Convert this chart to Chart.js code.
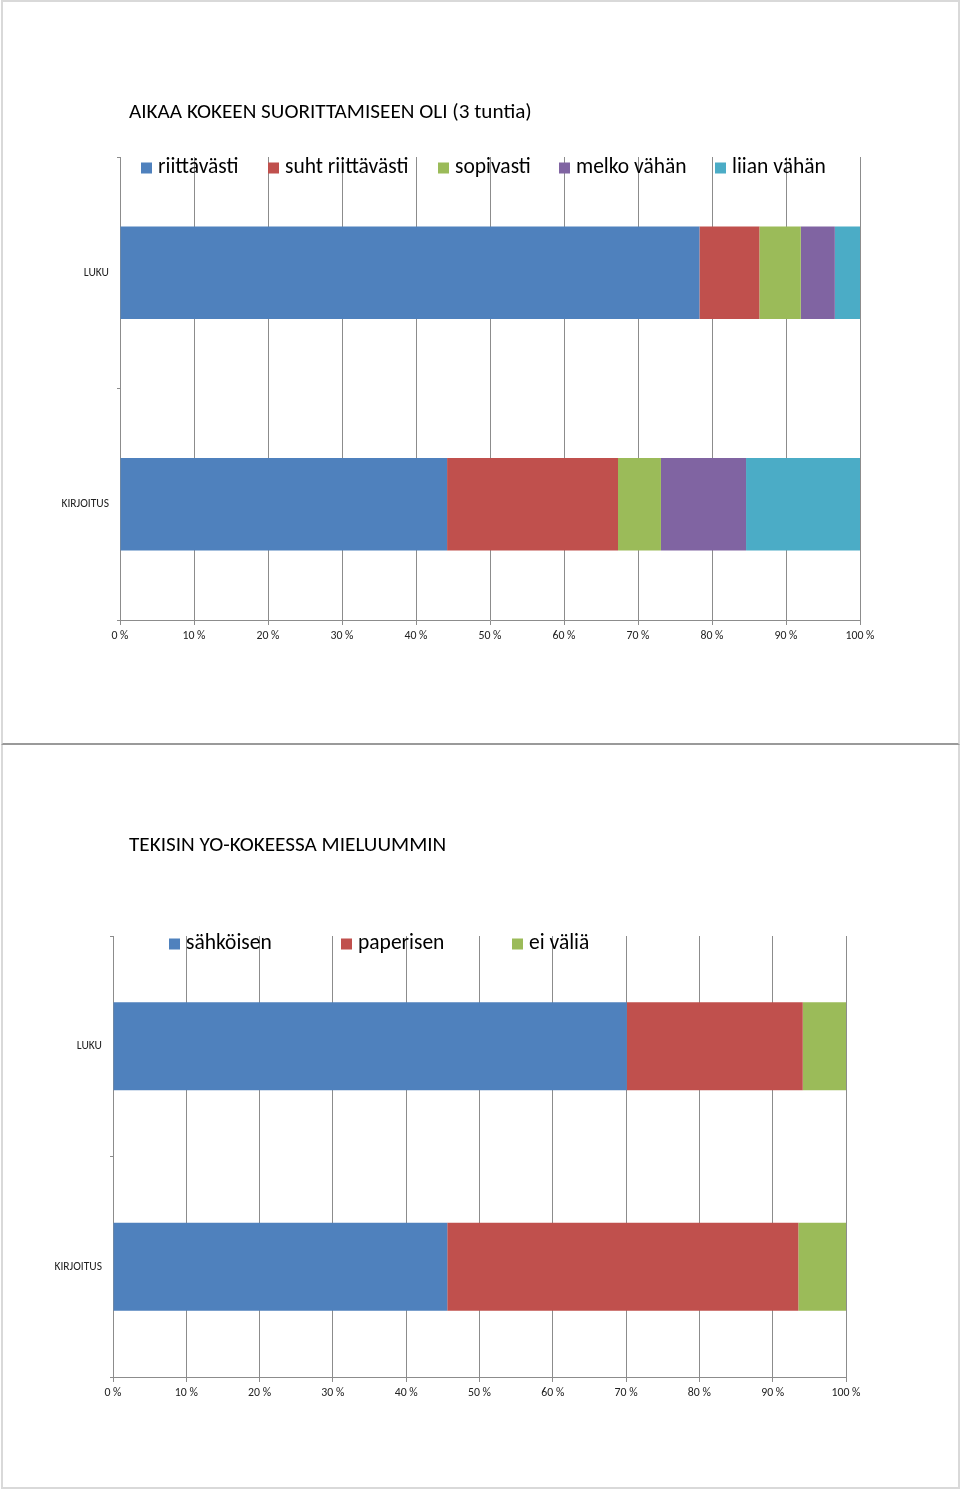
<!DOCTYPE html>
<html>
<head>
<meta charset="utf-8">
<script src="https://cdn.jsdelivr.net/npm/chart.js@4.4.1/dist/chart.umd.min.js"></script>
<style>
  html, body { margin: 0; padding: 0; background: #fff; }
  body { width: 960px; height: 1489px; position: relative; overflow: hidden; }
  .box { position: absolute; background: #fff; box-sizing: border-box; }
  #box1 { left: 1px; top: 0px; width: 959px; height: 745px; border: 2px solid #d9d9d9; border-bottom: 2px solid #9a9a9a; }
  #box2 { left: 1px; top: 745px; width: 959px; height: 744px; border: 2px solid #d9d9d9; border-top: none; }
  canvas { position: absolute; }
  #c1 { left: 3px; top: 3px; }
  #c2 { left: 3px; top: 746px; }
</style>
</head>
<body>
<div class="box" id="box1"></div>
<div class="box" id="box2"></div>
<canvas id="c1" width="955" height="740"></canvas>
<canvas id="c2" width="955" height="740"></canvas>
<script>
// ---- Data ----
const categories = ['LUKU', 'KIRJOITUS'];

const title1 = 'AIKAA KOKEEN SUORITTAMISEEN OLI (3 tuntia)';
const series1Names = ['riittävästi', 'suht riittävästi', 'sopivasti', 'melko vähän', 'liian vähän'];
const riittavasti = [78.3, 44.2];
const suhtRiittavasti = [8.1, 23.1];
const sopivasti = [5.6, 5.8];
const melkoVahan = [4.6, 11.5];
const liianVahan = [3.4, 15.4];

const title2 = 'TEKISIN YO-KOKEESSA MIELUUMMIN';
const series2Names = ['sähköisen', 'paperisen', 'ei väliä'];
const sahkoisen = [70.1, 45.6];
const paperisen = [24.0, 47.9];
const eiValia = [5.9, 6.5];

const xTicks = [0, 10, 20, 30, 40, 50, 60, 70, 80, 90, 100];

// ---- Styles ----
const COLORS = ['#4F81BD', '#C0504D', '#9BBB59', '#8064A2', '#4BACC6'];
const FONT = 'Carlito, Calibri, Lato, "Open Sans", sans-serif';
const GRID = '#8c8c8c';

const titleLegendPlugin = {
  id: 'titleLegend',
  afterDraw(chart, args, opts) {
    const ctx = chart.ctx;
    ctx.save();
    ctx.fillStyle = '#000';
    ctx.font = '21.2px ' + FONT;
    ctx.textBaseline = 'middle';
    ctx.textAlign = 'left';
    ctx.fillText(opts.title, opts.titleX, opts.titleY);
    ctx.font = '21.5px ' + FONT;
    chart.data.datasets.forEach((ds, i) => {
      const x = opts.legendX[i];
      ctx.fillStyle = ds.backgroundColor;
      ctx.fillRect(x, opts.legendY - 5.5, 11, 11);
      ctx.fillStyle = '#000';
      ctx.fillText(ds.label, x + 17, opts.legendY);
    });
    ctx.restore();
  }
};

function makeChart(id, names, seriesList, cfg) {
  const datasets = seriesList.map((s, i) => ({
    label: names[i],
    data: s,
    backgroundColor: COLORS[i],
    borderWidth: 0,
    barPercentage: 0.4,
    categoryPercentage: 1.0
  }));
  return new Chart(document.getElementById(id), {
    type: 'bar',
    data: { labels: categories, datasets },
    plugins: [titleLegendPlugin],
    options: {
      indexAxis: 'y',
      responsive: false,
      animation: false,
      events: [],
      layout: { padding: cfg.padding },
      plugins: {
        legend: { display: false },
        title: { display: false },
        tooltip: { enabled: false },
        titleLegend: {
          title: cfg.title, titleX: cfg.titleX, titleY: cfg.titleY,
          legendX: cfg.legendX, legendY: cfg.legendY
        }
      },
      scales: {
        x: {
          stacked: true,
          min: 0, max: 100,
          afterBuildTicks: (axis) => { axis.ticks = xTicks.map(v => ({ value: v })); },
          afterFit: (axis) => { axis.height = 30; },
          ticks: {
            callback: (v) => v + ' %',
            font: { family: FONT, size: 11.8 },
            color: '#222',
            padding: 4,
            maxRotation: 0,
            autoSkip: false
          },
          grid: { color: GRID, lineWidth: 1, tickLength: 5, drawTicks: true },
          border: { color: GRID, width: 1 }
        },
        y: {
          stacked: true,
          afterFit: (axis) => { axis.width = cfg.yWidth; },
          ticks: {
            font: { family: FONT, size: 11.5 },
            color: '#222',
            padding: 8
          },
          grid: { drawOnChartArea: false, color: GRID, tickLength: 3, offset: true },
          border: { color: GRID, width: 1 }
        }
      }
    }
  });
}

makeChart('c1', series1Names, [riittavasti, suhtRiittavasti, sopivasti, melkoVahan, liianVahan], {
  padding: { left: 0, right: 98, top: 154, bottom: 93 },
  yWidth: 117,
  title: title1, titleX: 126, titleY: 110,
  legendX: [138, 265, 435, 556, 712], legendY: 165
});

makeChart('c2', series2Names, [sahkoisen, paperisen, eiValia], {
  padding: { left: 0, right: 112, top: 190, bottom: 79 },
  yWidth: 110,
  title: title2, titleX: 126, titleY: 100,
  legendX: [166, 338, 509], legendY: 198
});
</script>
</body>
</html>
